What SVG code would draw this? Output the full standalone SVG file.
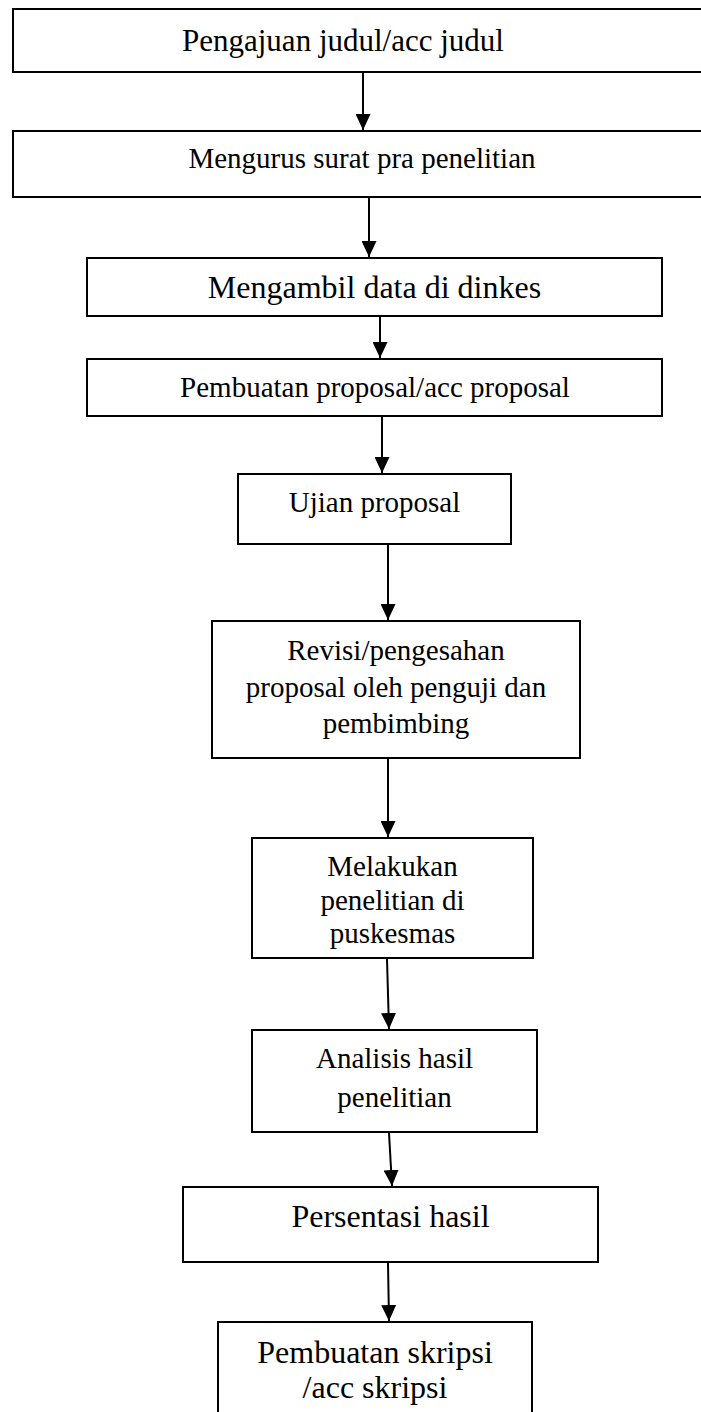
<svg xmlns="http://www.w3.org/2000/svg" width="701" height="1412" viewBox="0 0 701 1412">
<style>
.box{fill:#fff;stroke:#000;stroke-width:2}
.t{font-family:"Liberation Serif","Times New Roman",serif;fill:#000;text-anchor:middle}
.c{stroke:#000;stroke-width:2;fill:none;marker-end:url(#ah)}
</style>
<defs>
<marker id="ah" markerUnits="userSpaceOnUse" markerWidth="16" markerHeight="15" refX="16" refY="7.5" orient="auto">
<path d="M0,0 L16,7.5 L0,15 z" fill="#000"/>
</marker>
</defs>
<rect width="701" height="1412" fill="#fff"/>
<g id="n1"><rect class="box" x="13" y="9" width="700" height="63"/><text class="t" x="343" y="51" font-size="31">Pengajuan judul/acc judul</text></g>
<g id="n2"><rect class="box" x="13" y="131" width="700" height="66"/><text class="t" x="362" y="168" font-size="29">Mengurus surat pra penelitian</text></g>
<g id="n3"><rect class="box" x="87" y="258" width="575" height="58"/><text class="t" x="374.5" y="298" font-size="32">Mengambil data di dinkes</text></g>
<g id="n4"><rect class="box" x="87" y="359" width="575" height="57"/><text class="t" x="375" y="397" font-size="29">Pembuatan proposal/acc proposal</text></g>
<g id="n5"><rect class="box" x="238" y="474" width="273" height="70"/><text class="t" x="374.5" y="512" font-size="29">Ujian proposal</text></g>
<g id="n6"><rect class="box" x="212" y="621" width="368" height="137"/><text class="t" x="396" y="660" font-size="29">Revisi/pengesahan</text><text class="t" x="396" y="697" font-size="29">proposal oleh penguji dan</text><text class="t" x="396" y="733" font-size="29">pembimbing</text></g>
<g id="n7"><rect class="box" x="252" y="838" width="281" height="120"/><text class="t" x="392.5" y="876" font-size="29">Melakukan</text><text class="t" x="392.5" y="910" font-size="29">penelitian di</text><text class="t" x="392.5" y="943" font-size="29">puskesmas</text></g>
<g id="n8"><rect class="box" x="252" y="1030" width="285" height="102"/><text class="t" x="394.5" y="1068" font-size="29">Analisis hasil</text><text class="t" x="394.5" y="1107" font-size="29">penelitian</text></g>
<g id="n9"><rect class="box" x="183" y="1187" width="415" height="75"/><text class="t" x="390.5" y="1227" font-size="32">Persentasi hasil</text></g>
<g id="n10"><rect class="box" x="218" y="1322" width="314" height="120"/><text class="t" x="375" y="1363" font-size="32">Pembuatan skripsi</text><text class="t" x="375" y="1398" font-size="32">/acc skripsi</text></g>
<g id="connectors">
<line class="c" x1="363" y1="73" x2="363" y2="130"/>
<line class="c" x1="369" y1="198" x2="369" y2="257"/>
<line class="c" x1="380" y1="317" x2="380" y2="358"/>
<line class="c" x1="382" y1="417" x2="382" y2="473"/>
<line class="c" x1="388" y1="545" x2="388" y2="620"/>
<line class="c" x1="388" y1="759" x2="388" y2="837"/>
<line class="c" x1="387" y1="959" x2="389" y2="1029"/>
<line class="c" x1="389" y1="1133" x2="392" y2="1186"/>
<line class="c" x1="388" y1="1263" x2="389" y2="1321"/>
</g>
</svg>
